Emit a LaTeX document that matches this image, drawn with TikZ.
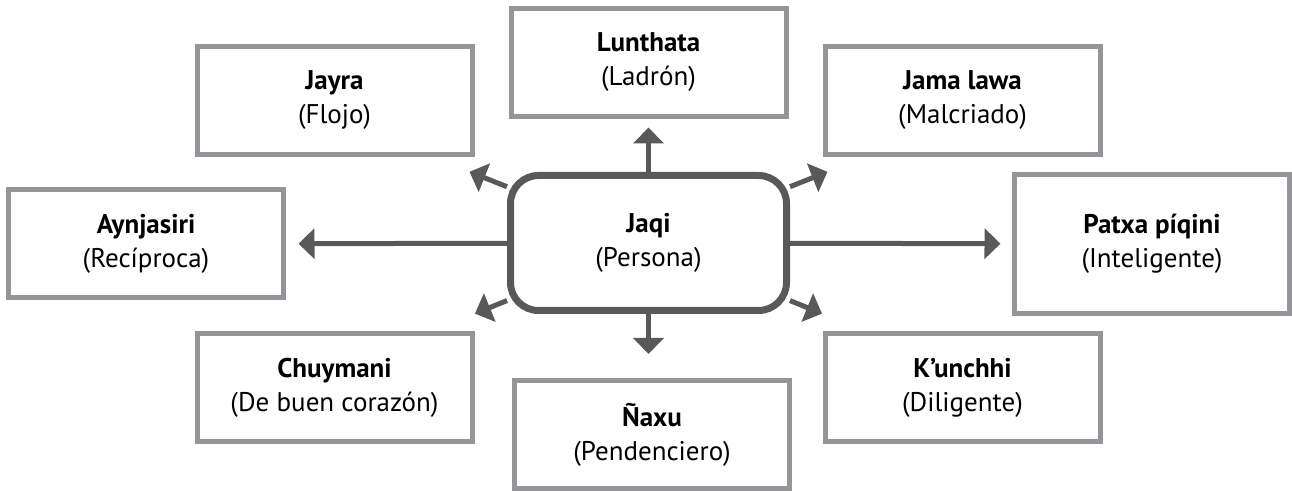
\documentclass[tikz,border=0pt]{standalone}
\usepackage{fontspec}
\setmainfont{PT Sans}
\usetikzlibrary{arrows.meta}

\definecolor{ramka}{HTML}{939598}
\definecolor{ciemny}{HTML}{58595B}

\begin{document}
\begin{tikzpicture}[x=0.5pt, y=-0.5pt,
    cecha/.style={draw=ramka, line width=2.5pt, fill=white, inner sep=0pt,
        minimum width=137.5pt, minimum height=54pt, align=center,
        font=\fontsize{13.5}{17}\selectfont},
    centrum/.style={draw=ciemny, line width=3.5pt, rounded corners=14pt, inner sep=0pt,
        minimum width=138pt, minimum height=67.5pt, align=center,
        font=\fontsize{13.5}{17}\selectfont},
    strz/.style={draw=ciemny, line width=2.5pt, -{Triangle[width=15pt, length=8pt]}}]

    \useasboundingbox (0,0) rectangle (1292,491);

    % --- SRODEK ---
    \node[centrum] (jaqi) at (648.5,243) {\textbf{Jaqi}\\(Persona)};

    % --- GORNY RZAD ---
    \node[cecha] (jayra) at (334.5,100.5) {\textbf{Jayra}\\(Flojo)};
    \node[cecha] (lunthata) at (648.5,62.5) {\textbf{Lunthata}\\(Ladrón)};
    \node[cecha] (jamalawa) at (962.5,100.5) {\textbf{Jama lawa}\\(Malcriado)};

    % --- SRODKOWY RZAD ---
    \node[cecha] (aynjasiri) at (146,244) {\textbf{Aynjasiri}\\(Recíproca)};
    \node[cecha, minimum height=69.5pt] (patxa) at (1152,244) {\textbf{Patxa píqini}\\(Inteligente)};

    % --- DOLNY RZAD ---
    \node[cecha] (chuymani) at (334.5,387.5) {\textbf{Chuymani}\\(De buen corazón)};
    \node[cecha] (naxu) at (652,435) {\textbf{Ñaxu}\\(Pendenciero)};
    \node[cecha] (kunchhi) at (962.5,387.5) {\textbf{K’unchhi}\\(Diligente)};

    % --- STRZALKI ---
    \draw[strz, shorten >=4.25pt] (jaqi) -- (lunthata);
    \draw[strz, shorten >=12.25pt] (jaqi) -- (jaqi |- naxu.north);
    \draw[strz, shorten >=6.25pt] (jaqi) -- (aynjasiri);
    \draw[strz, shorten >=5.75pt] (jaqi) -- (patxa);
    \draw[strz, shorten >=20pt] (jaqi) -- (jayra.-30);
    \draw[strz, shorten >=20pt] (jaqi) -- (jamalawa.-150);
    \draw[strz, shorten >=23pt] (jaqi) -- (chuymani.30);
    \draw[strz, shorten >=23pt] (jaqi) -- (kunchhi.150);

\end{tikzpicture}
\end{document}
